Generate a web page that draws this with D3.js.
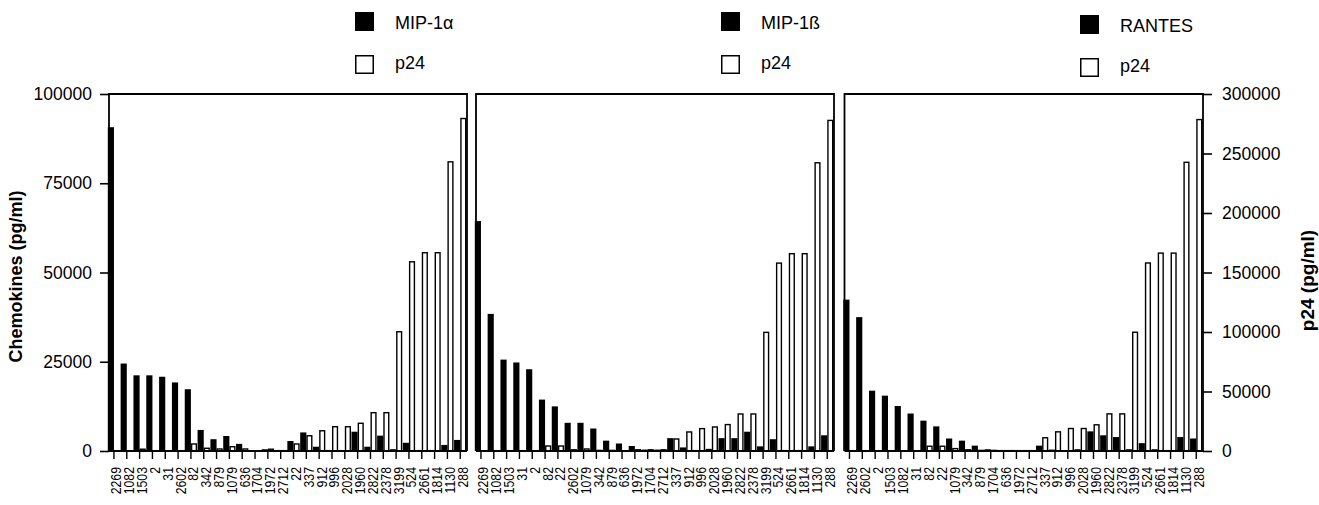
<!DOCTYPE html>
<html>
<head>
<meta charset="utf-8">
<script src="https://cdn.jsdelivr.net/npm/d3@7"></script>
<style>
  html, body { margin: 0; padding: 0; background: #fff; }
  svg { display: block; }
  text { font-family: "Liberation Sans", Arial, Helvetica, sans-serif; fill: #000; }
</style>
</head>
<body>
<svg id="chart" width="1319" height="505"></svg>
<script>
// ---------- data ----------
const chemokineNames = ["MIP-1\u03b1", "MIP-1\u00df", "RANTES"];
const seriesP24Name = "p24";

const categories1 = ["2269","1082","1503","2","31","2602","82","342","879","1079","636","1704","1972","2712","22","337","912","996","2028","1960","2822","2378","3199","524","2661","1814","1130","288"];
const mip1a = [90700,24500,21200,21200,20800,19200,17300,5900,3300,4200,2000,200,500,300,2800,5200,1200,300,200,5400,1200,4300,500,2300,300,300,1700,3100];
const p24a  = [0,0,1500,0,0,0,5900,2300,1700,3600,1700,0,1500,300,5900,12800,17000,20400,20400,23300,32200,32200,100200,159000,166600,166600,243000,279400];

const categories2 = ["2269","1082","1503","31","2","82","22","2602","1079","342","879","636","1972","1704","2712","337","912","996","2028","1960","2822","2378","3199","524","2661","1814","1130","288"];
const mip1b = [64400,38400,25600,24800,22900,14400,12500,7900,7900,6300,2900,2100,1400,400,400,3600,1000,300,600,3600,3600,5400,1300,3300,300,300,1300,4400];
const p24b  = [0,0,0,0,0,4200,4200,1000,1700,500,500,0,1000,1000,1000,10100,16000,18800,20200,22200,31100,31100,99700,157900,165800,165800,242200,277800];

const categories3 = ["2269","2602","2","1503","1082","31","82","22","1079","342","879","1704","636","1972","2712","337","912","996","2028","1960","2822","2378","3199","524","2661","1814","1130","288"];
const rantes = [42400,37500,16900,15500,12600,10500,8500,6900,3500,2900,1500,500,300,300,300,1500,400,200,500,5500,4400,3900,500,2200,500,300,3900,3500];
const p24c   = [0,0,0,0,0,0,4000,4000,2000,1000,500,500,300,300,300,11100,16100,18900,18900,22000,31200,31200,99800,158000,166300,166300,242600,278500];

const leftTicks = [0, 25000, 50000, 75000, 100000];
const rightTicks = [0, 50000, 100000, 150000, 200000, 250000, 300000];

// ---------- layout ----------
const svg = d3.select("#chart");
const plotTop = 94, plotBottom = 451;
const panelBoxes = [[109, 467], [476, 834], [844.5, 1203]];
const panels = [
  { cats: categories1, chem: mip1a, p24: p24a, name: chemokineNames[0], legX: 355, legY: 12 },
  { cats: categories2, chem: mip1b, p24: p24b, name: chemokineNames[1], legX: 721, legY: 12 },
  { cats: categories3, chem: rantes, p24: p24c, name: chemokineNames[2], legX: 1080, legY: 15 }
];

const yL = d3.scaleLinear().domain([0, 100000]).range([plotBottom, plotTop]);
const yR = d3.scaleLinear().domain([0, 300000]).range([plotBottom, plotTop]);
const fmt = d3.format("d");

panels.forEach((p, i) => {
  const [x0, x1] = panelBoxes[i];
  const x = d3.scaleBand().domain(p.cats).range([x0 - 1.2, x1 - 0.6]).paddingInner(0.04).paddingOuter(0);
  const sub = d3.scaleBand().domain(["chem", "p24"]).range([0, x.bandwidth()]);
  const g = svg.append("g");

  // chemokine bars (black)
  g.selectAll("rect.chem").data(p.cats).join("rect")
    .attr("class", "chem")
    .attr("x", d => x(d) + sub("chem"))
    .attr("width", sub.bandwidth())
    .attr("y", (d, k) => yL(p.chem[k]))
    .attr("height", (d, k) => plotBottom - yL(p.chem[k]))
    .attr("fill", "#000");

  // p24 bars (white, black outline)
  g.selectAll("rect.p24").data(p.cats).join("rect")
    .attr("class", "p24")
    .attr("x", d => x(d) + sub("p24") + 0.7)
    .attr("width", sub.bandwidth() - 1.4)
    .attr("y", (d, k) => yR(p.p24[k]))
    .attr("height", (d, k) => Math.max(0, plotBottom - yR(p.p24[k])))
    .attr("fill", "#fff")
    .attr("stroke", "#000")
    .attr("stroke-width", 1.4);

  // frame
  g.append("path")
    .attr("d", `M${x0},${plotBottom}V${plotTop}H${x1}V${plotBottom}`)
    .attr("fill", "none").attr("stroke", "#000").attr("stroke-width", 1.8);

  // bottom axis
  const ax = g.append("g").attr("transform", `translate(0,${plotBottom})`)
    .call(d3.axisBottom(x).tickSize(8).tickSizeOuter(0).tickFormat(""));
  ax.select(".domain").attr("stroke", "#000").attr("stroke-width", 1.8).attr("d", `M${x0},0H${x1}`);
  ax.selectAll(".tick line").attr("stroke", "#000").attr("stroke-width", 1.4);
  ax.selectAll(".tick").append("text")
    .attr("transform", "translate(2,16) rotate(-90) scale(0.82,1)")
    .attr("text-anchor", "end")
    .attr("dy", "0.36em")
    .attr("font-size", 15)
    .text(d => d);

  // legend
  const lg = svg.append("g");
  lg.append("rect").attr("x", p.legX).attr("y", p.legY).attr("width", 19).attr("height", 19).attr("fill", "#000");
  lg.append("rect").attr("x", p.legX + 0.75).attr("y", p.legY + 43.75).attr("width", 17.5).attr("height", 17.5)
    .attr("fill", "#fff").attr("stroke", "#000").attr("stroke-width", 1.5);
  lg.append("text").attr("x", p.legX + 40).attr("y", p.legY + 17).attr("font-size", 18).text(p.name);
  lg.append("text").attr("x", p.legX + 40).attr("y", p.legY + 57).attr("font-size", 18).text(seriesP24Name);
});

// left axis
const gl = svg.append("g").attr("transform", `translate(${panelBoxes[0][0]},0)`)
  .call(d3.axisLeft(yL).tickValues(leftTicks).tickSize(9).tickPadding(8).tickFormat(fmt));
gl.select(".domain").remove();
gl.selectAll(".tick line").attr("stroke", "#000").attr("stroke-width", 1.6);
gl.selectAll(".tick text").attr("font-size", 17.5).attr("font-family", "Liberation Sans, Arial, sans-serif");

// right axis
const gr = svg.append("g").attr("transform", `translate(${panelBoxes[2][1]},0)`)
  .call(d3.axisRight(yR).tickValues(rightTicks).tickSize(9).tickPadding(10).tickFormat(fmt));
gr.select(".domain").remove();
gr.selectAll(".tick line").attr("stroke", "#000").attr("stroke-width", 1.6);
gr.selectAll(".tick text").attr("font-size", 17.5).attr("font-family", "Liberation Sans, Arial, sans-serif");

// axis titles
svg.append("text")
  .attr("transform", `translate(22,${(plotTop + plotBottom) / 2 + 4}) rotate(-90)`)
  .attr("text-anchor", "middle").attr("font-size", 18).attr("font-weight", "bold")
  .text("Chemokines (pg/ml)");
svg.append("text")
  .attr("transform", `translate(1314,${(plotTop + plotBottom) / 2 + 8}) rotate(-90)`)
  .attr("text-anchor", "middle").attr("font-size", 19).attr("font-weight", "bold")
  .text("p24 (pg/ml)");
</script>
</body>
</html>
